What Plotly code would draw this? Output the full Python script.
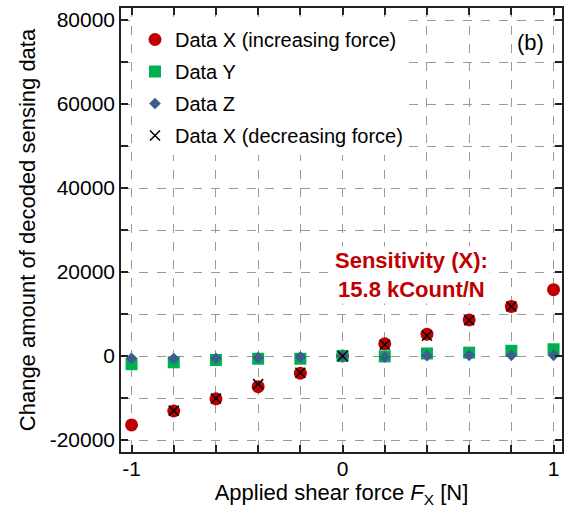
import plotly.graph_objects as go

force = [-1.0, -0.8, -0.6, -0.4, -0.2, 0.0, 0.2, 0.4, 0.6, 0.8, 1.0]
data_x_inc = [-16400, -13100, -10200, -7300, -4100, 0, 2900, 5200, 8600, 11800, 15800]
data_y = [-1950, -1500, -950, -650, -650, 0, -100, 600, 800, 1250, 1600]
data_z = [-550, -600, -550, -400, -250, 0, -300, 80, 150, 150, 150]
force_dec = [-0.8, -0.6, -0.4, -0.2, 0.0, 0.2, 0.4, 0.6, 0.8]
data_x_dec = [-13000, -10100, -6700, -4000, 0, 2700, 4800, 8500, 11800]

x_tick_vals = [-1, 0, 1]
x_tick_text = ["-1", "0", "1"]
y_tick_vals = [-20000, 0, 20000, 40000, 60000, 80000]
y_tick_text = ["-20000", "0", "20000", "40000", "60000", "80000"]

FONT = "Liberation Sans, Arial, sans-serif"
RED = "#C00000"
GREEN = "#00B050"
BLUE = "#3B5E8F"

fig = go.Figure()
fig.add_trace(go.Scatter(x=force, y=data_x_inc, mode="markers", name="Data X (increasing force)",
                         legendgroup="a",
                         marker=dict(symbol="circle", size=13, color=RED)))
fig.add_trace(go.Scatter(x=force, y=data_y, mode="markers", name="Data Y",
                         legendgroup="b",
                         marker=dict(symbol="square", size=12, color=GREEN)))
fig.add_trace(go.Scatter(x=force, y=data_z, mode="markers", name="Data Z",
                         legendgroup="c",
                         marker=dict(symbol="diamond", size=9, color=BLUE)))
fig.add_trace(go.Scatter(x=force_dec, y=data_x_dec, mode="markers", name="Data X (decreasing force)",
                         legendgroup="d",
                         marker=dict(symbol="x-thin", size=10, color="black",
                                     line=dict(width=1.5, color="black"))))

grid = dict(showgrid=True, gridcolor="#9a9a9a", griddash="dash", gridwidth=1)
fig.update_xaxes(range=[-1.05, 1.04], tickmode="array", tickvals=x_tick_vals, ticktext=x_tick_text,
                 ticks="inside", ticklen=7, automargin=False, ticklabelstandoff=-3,
                 tickwidth=1.5, tickcolor="#222", showline=True, linecolor="#222",
                 linewidth=1.5, mirror="ticks", zeroline=False,
                 tickfont=dict(size=21, color="black", family=FONT),
                 title=dict(text="Applied shear force <i>F</i><sub>X</sub> [N]",
                            font=dict(size=22, color="black", family=FONT), standoff=13),
                 minor=dict(dtick=0.2, tick0=-1, ticks="inside", ticklen=7, tickwidth=1.5,
                            tickcolor="#222", **grid),
                 **grid)
fig.update_yaxes(range=[-22857, 82857], tickmode="array", tickvals=y_tick_vals, ticktext=y_tick_text,
                 ticks="inside", ticklen=7, automargin=False,
                 tickwidth=1.5, tickcolor="#222", showline=True, linecolor="#222",
                 linewidth=1.5, mirror="ticks", zeroline=False,
                 tickfont=dict(size=21, color="black", family=FONT),
                 title=dict(text="Change amount of decoded sensing data",
                            font=dict(size=22, color="black", family=FONT), standoff=8),
                 minor=dict(dtick=10000, tick0=0, ticks="inside", ticklen=7, tickwidth=1.5,
                            tickcolor="#222", **grid),
                 **grid)

fig.add_annotation(x=0.329, y=19400, xref="x", yref="y", showarrow=False,
                   text="<b>Sensitivity (X):<br>15.8 kCount/N</b>",
                   font=dict(size=22, color=RED, family=FONT), align="center",
                   bgcolor="white")
fig.add_annotation(x=(530 - 121) / 441, y=1 - (42 - 8) / 444, xref="paper", yref="paper",
                   xanchor="center", yanchor="middle", showarrow=False,
                   text="(b)", font=dict(size=22, color="black", family=FONT))

fig.update_layout(
    width=568, height=508,
    margin=dict(l=121, r=6, t=8, b=56),
    plot_bgcolor="white", paper_bgcolor="white",
    font=dict(family=FONT, color="black"),
    legend=dict(x=(135 - 121) / 441, y=1 - (20 - 8) / 444, xanchor="left", yanchor="top",
                bgcolor="white", font=dict(size=20, color="black", family=FONT),
                traceorder="grouped", tracegroupgap=3),
)

fig.write_html("out.html")
